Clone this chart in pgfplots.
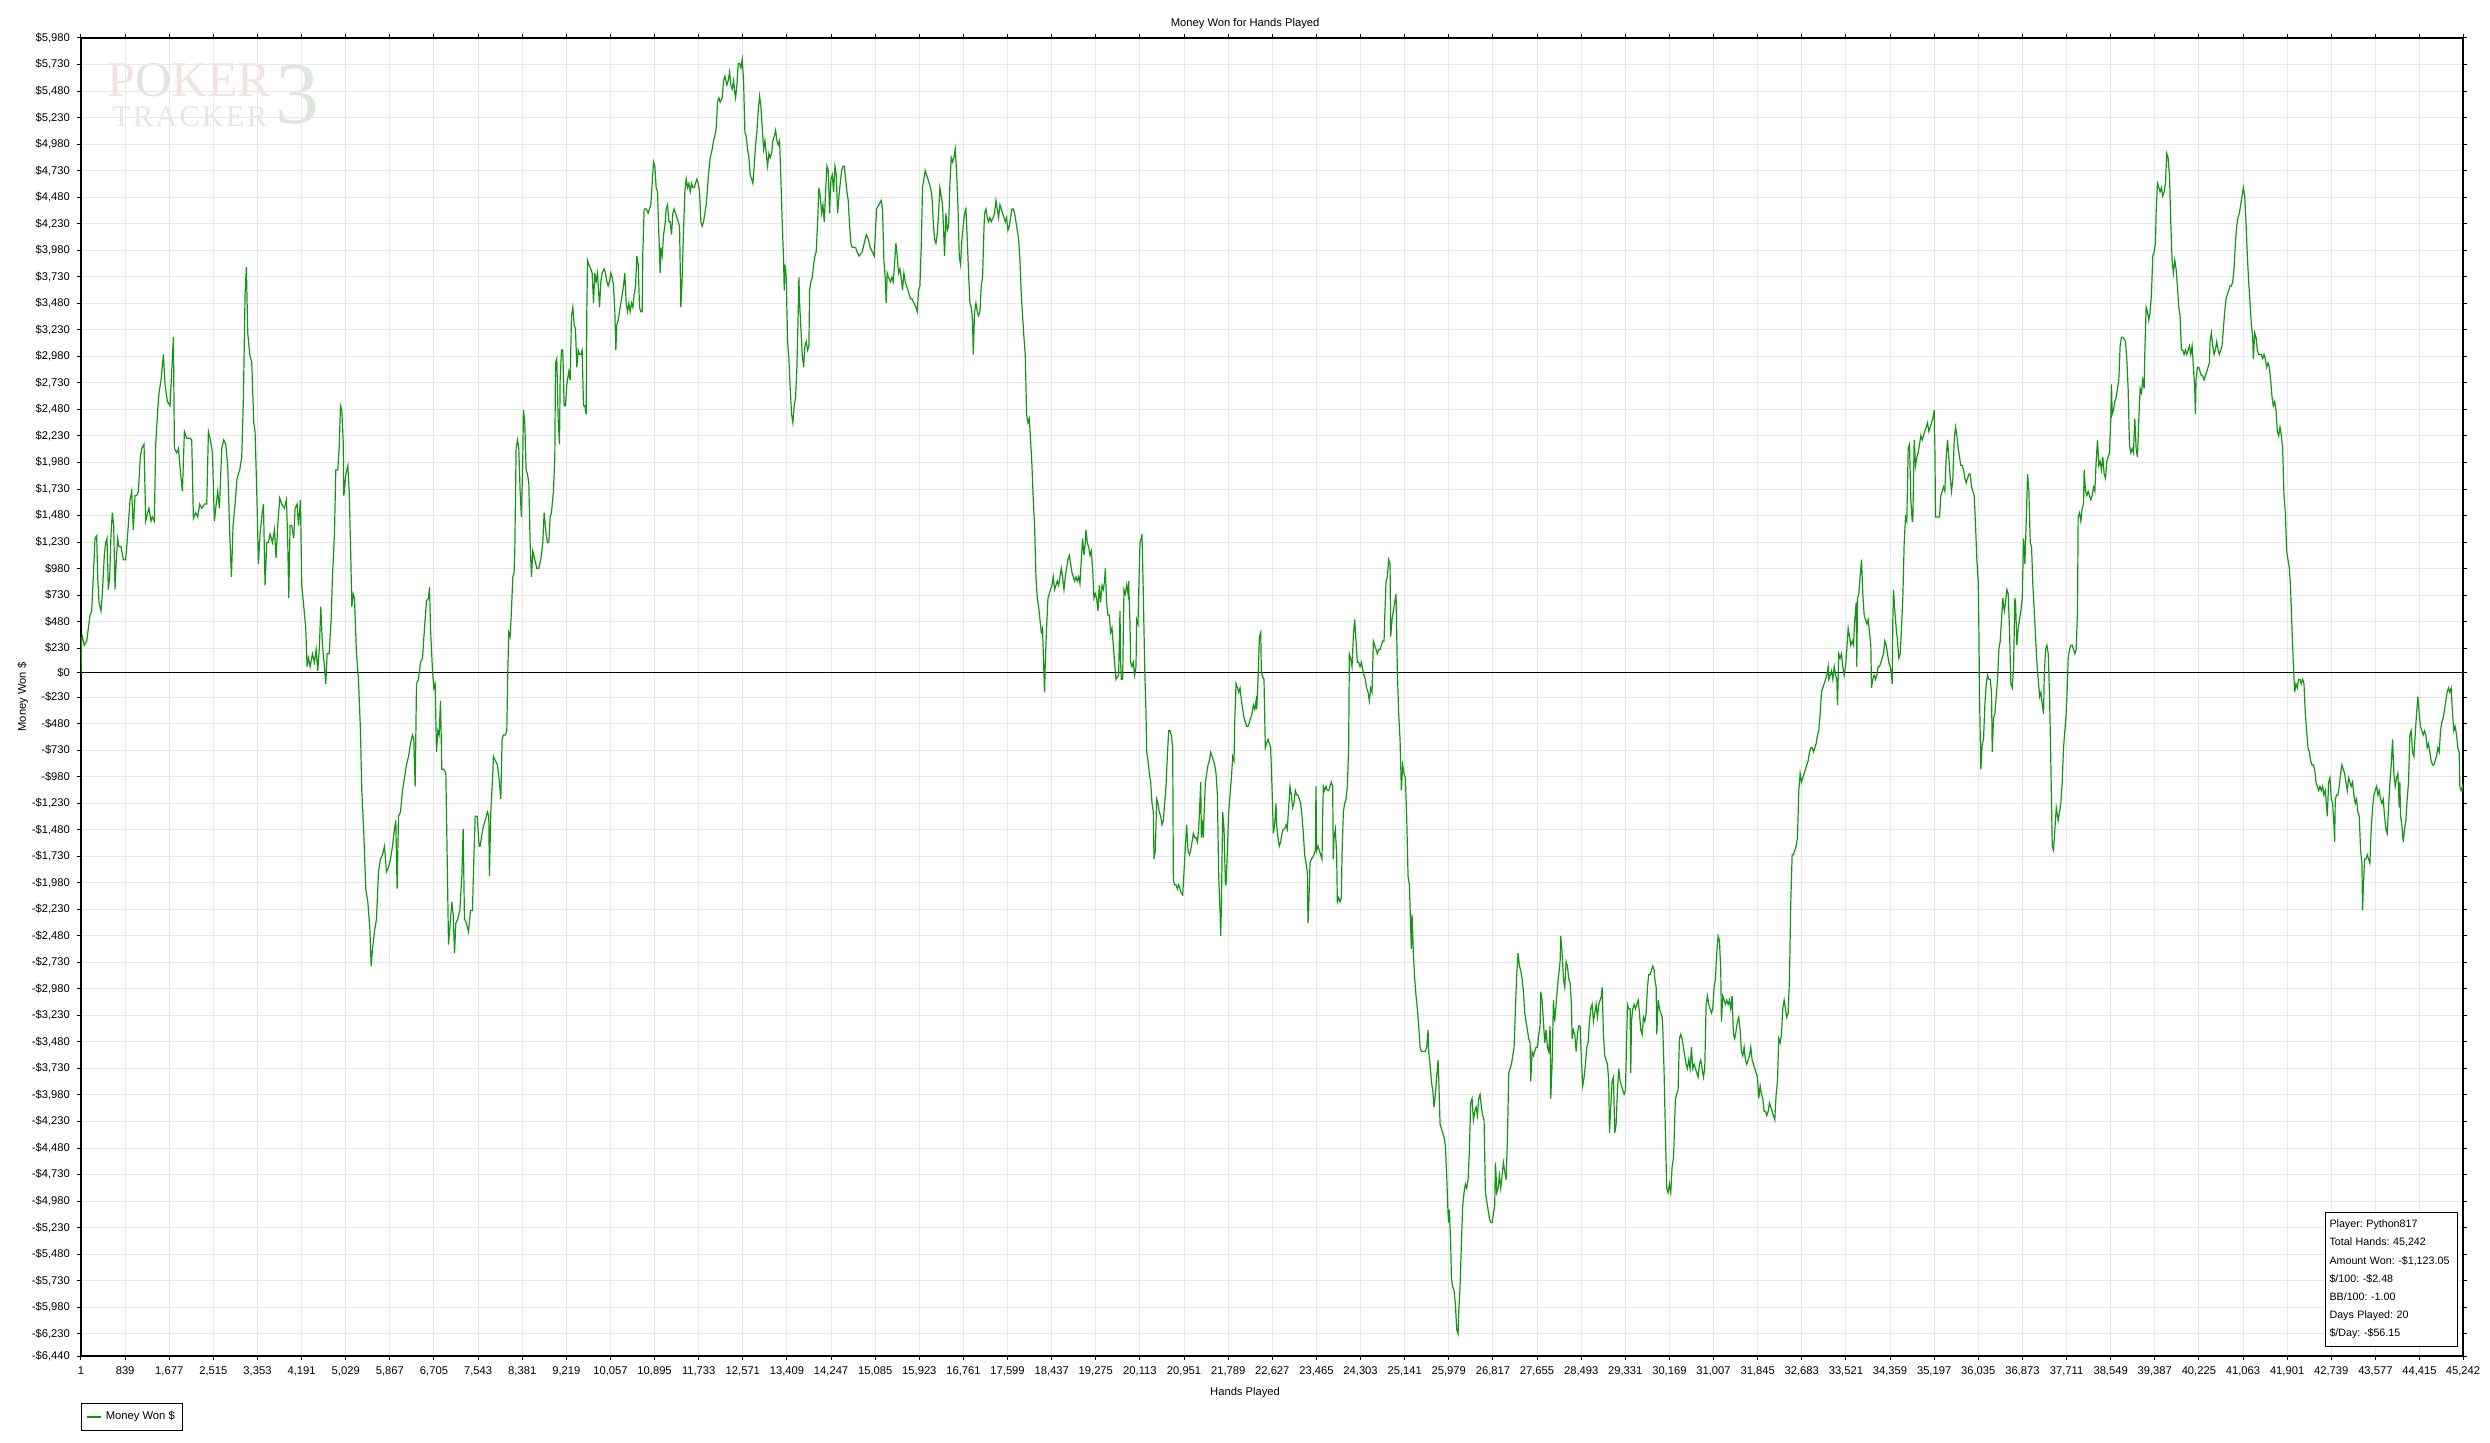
\documentclass[border=0pt]{standalone}
\usepackage{fontspec}
\setmainfont{Liberation Sans}
\newfontfamily\wmfont{Liberation Serif}
\newfontfamily\wmfontT[LetterSpace=8]{Liberation Serif}
\usepackage{pgfplots}
\pgfplotsset{compat=1.18}
\definecolor{pgreen}{RGB}{20,150,20}
\definecolor{gridc}{RGB}{232,232,232}
\definecolor{wmpink}{RGB}{243,224,224}
\definecolor{wmgray}{RGB}{230,230,230}
\definecolor{wmgreen}{RGB}{222,230,222}
\newcommand{\tfont}{\fontsize{5.6}{6.5}\selectfont}
\begin{document}
\begin{tikzpicture}
\useasboundingbox (-40.5pt,-43pt) rectangle (1204.5pt,678pt);
% watermark (behind the axis content)
\node[anchor=base west, inner sep=0pt, font=\wmfont\fontsize{25}{25}\selectfont, text=wmpink] at (13pt,629.5pt) {P\textcolor{wmgreen}{O}KER};
\node[anchor=base west, inner sep=0pt, font=\wmfontT\fontsize{15}{15}\selectfont, text=wmgray] at (15.5pt,614.5pt) {TRACKER};
\node[anchor=base west, inner sep=0pt, font=\wmfont\fontsize{44}{44}\selectfont, text=wmgreen] at (97pt,616pt) {3};
\begin{axis}[
  at={(0pt,0pt)}, anchor=south west,
  scale only axis, width=1191pt, height=659pt,
  xmin=1, xmax=45242, ymin=-6440, ymax=5980,
  axis line style={black, line width=0.8pt},
  tick align=outside, major tick length=2pt,
  tick style={black, line width=0.5pt},
  xtick={1,839,1677,2515,3353,4191,5029,5867,6705,7543,8381,9219,10057,10895,11733,12571,13409,14247,15085,15923,16761,17599,18437,19275,20113,20951,21789,22627,23465,24303,25141,25979,26817,27655,28493,29331,30169,31007,31845,32683,33521,34359,35197,36035,36873,37711,38549,39387,40225,41063,41901,42739,43577,44415,45242},
  xticklabels={1,839,1{,}677,2{,}515,3{,}353,4{,}191,5{,}029,5{,}867,6{,}705,7{,}543,8{,}381,9{,}219,10{,}057,10{,}895,11{,}733,12{,}571,13{,}409,14{,}247,15{,}085,15{,}923,16{,}761,17{,}599,18{,}437,19{,}275,20{,}113,20{,}951,21{,}789,22{,}627,23{,}465,24{,}303,25{,}141,25{,}979,26{,}817,27{,}655,28{,}493,29{,}331,30{,}169,31{,}007,31{,}845,32{,}683,33{,}521,34{,}359,35{,}197,36{,}035,36{,}873,37{,}711,38{,}549,39{,}387,40{,}225,41{,}063,41{,}901,42{,}739,43{,}577,44{,}415,45{,}242},
  scaled x ticks=false,
  xticklabel style={font=\tfont},
  ytick={-6440,-6230,-5980,-5730,-5480,-5230,-4980,-4730,-4480,-4230,-3980,-3730,-3480,-3230,-2980,-2730,-2480,-2230,-1980,-1730,-1480,-1230,-980,-730,-480,-230,0,230,480,730,980,1230,1480,1730,1980,2230,2480,2730,2980,3230,3480,3730,3980,4230,4480,4730,4980,5230,5480,5730,5980},
  yticklabels={-\$6{,}440,-\$6{,}230,-\$5{,}980,-\$5{,}730,-\$5{,}480,-\$5{,}230,-\$4{,}980,-\$4{,}730,-\$4{,}480,-\$4{,}230,-\$3{,}980,-\$3{,}730,-\$3{,}480,-\$3{,}230,-\$2{,}980,-\$2{,}730,-\$2{,}480,-\$2{,}230,-\$1{,}980,-\$1{,}730,-\$1{,}480,-\$1{,}230,-\$980,-\$730,-\$480,-\$230,\$0,\$230,\$480,\$730,\$980,\$1{,}230,\$1{,}480,\$1{,}730,\$1{,}980,\$2{,}230,\$2{,}480,\$2{,}730,\$2{,}980,\$3{,}230,\$3{,}480,\$3{,}730,\$3{,}980,\$4{,}230,\$4{,}480,\$4{,}730,\$4{,}980,\$5{,}230,\$5{,}480,\$5{,}730,\$5{,}980},
  yticklabel style={font=\tfont},
  xmajorgrids, ymajorgrids,
  grid style={gridc, line width=0.5pt},
  every axis title shift=0pt,
  title={Money Won for Hands Played},
  title style={font=\tfont, at={(axis description cs:0.4887,1.0091)}, anchor=base},
  xlabel={Hands Played},
  xlabel style={font=\tfont, at={(axis description cs:0.4887,-0.0281)}, anchor=center},
  ylabel={Money Won \$},
  ylabel style={font=\tfont, at={(axis description cs:-0.02435,0.5)}, anchor=center},
  legend style={at={(axis description cs:0,-0.0357)}, anchor=north west, draw=black, line width=0.5pt, font=\tfont, inner xsep=2pt, inner ysep=1.8pt, legend cell align=left},
  legend image code/.code={\draw[line width=1.2pt] (0pt,0pt) -- (7pt,0pt);},
]
\addplot[black, line width=0.6pt, forget plot] coordinates {(1,0) (45242,0)};
\addplot[pgreen, line width=0.6pt, mark=none] coordinates {
(1,0) (14,322) (26,339) (64,258) (109,298) (172,540) (204,580) (235,903) (267,1265) (299,1290) (318,903) (343,661) (381,580) (406,742) (444,1104) (470,1225) (495,1265) (520,782) (546,903) (571,1306) (596,1507) (622,1386) (647,782) (672,1064) (698,1265) (723,1185) (761,1185) (805,1064) (850,1064) (888,1306) (932,1628) (964,1709) (995,1346) (1027,1668) (1059,1668) (1090,1709) (1128,2031) (1154,2112) (1198,2152) (1230,1427) (1268,1507) (1293,1548) (1331,1427) (1356,1467) (1394,1427) (1420,2152) (1458,2474) (1483,2636) (1521,2757) (1566,2998) (1597,2716) (1642,2555) (1692,2515) (1724,2837) (1756,3160) (1775,2112) (1819,2071) (1851,2112) (1901,1830) (1927,1709) (1965,2273) (2009,2208) (2072,2208) (2104,2192) (2136,1451) (2180,1507) (2218,1467) (2256,1588) (2294,1548) (2345,1588) (2389,1588) (2421,2273) (2459,2192) (2497,2071) (2535,1427) (2560,1548) (2598,1709) (2630,1548) (2674,2112) (2712,2192) (2750,2152) (2788,1951) (2826,1306) (2858,903) (2889,1386) (2927,1588) (2965,1830) (3016,1910) (3054,2031) (3086,2595) (3117,3563) (3142,3820) (3168,3200) (3206,2998) (3244,2918) (3282,2354) (3307,2273) (3339,1709) (3371,1024) (3402,1306) (3434,1467) (3466,1588) (3497,822) (3529,1225) (3561,1225) (3592,1306) (3637,1225) (3675,1346) (3706,1080) (3738,1386) (3776,1644) (3814,1588) (3865,1548) (3903,1628) (3928,1225) (3947,701) (3972,1386) (4004,1386) (4042,1265) (4067,1548) (4105,1588) (4131,1386) (4169,1628) (4194,822) (4232,621) (4270,419) (4295,56) (4321,137) (4353,56) (4397,177) (4435,97) (4467,218) (4498,16) (4530,258) (4555,621) (4587,258) (4625,56) (4650,-105) (4676,177) (4714,177) (4752,500) (4777,903) (4815,1306) (4840,1910) (4878,1910) (4904,2112) (4929,2515) (4954,2474) (4980,2192) (4993,1668) (5031,1870) (5069,1951) (5094,1709) (5119,1225) (5145,621) (5170,742) (5195,701) (5233,177) (5271,-64) (5309,-548) (5334,-1112) (5372,-1515) (5410,-2039) (5448,-2160) (5486,-2402) (5512,-2765) (5537,-2603) (5575,-2442) (5613,-2321) (5651,-1878) (5689,-1757) (5727,-1717) (5765,-1636) (5803,-1878) (5841,-1838) (5879,-1757) (5917,-1636) (5955,-1475) (5980,-1394) (6005,-2039) (6031,-1354) (6069,-1314) (6107,-1112) (6145,-991) (6183,-870) (6221,-790) (6259,-669) (6297,-588) (6322,-629) (6348,-1072) (6373,-105) (6411,-64) (6449,97) (6487,137) (6525,419) (6563,677) (6601,701) (6620,806) (6639,419) (6677,16) (6702,-145) (6727,-105) (6753,-750) (6778,-548) (6803,-588) (6829,-266) (6854,-911) (6892,-911) (6930,-951) (6955,-1717) (6981,-2563) (7019,-2321) (7044,-2160) (7069,-2281) (7095,-2644) (7120,-2362) (7158,-2321) (7196,-2241) (7234,-1918) (7259,-1475) (7284,-2321) (7322,-2362) (7360,-2442) (7398,-2241) (7436,-2241) (7462,-1757) (7487,-1354) (7525,-1354) (7563,-1636)
(7581,-1636) (7632,-1475) (7676,-1394) (7720,-1314) (7746,-1354) (7758,-1918) (7784,-1314) (7822,-951) (7834,-790) (7872,-830) (7910,-870) (7948,-1032) (7974,-1193) (7999,-629) (8024,-588) (8062,-588) (8088,-548) (8107,16) (8126,379) (8151,339) (8176,580) (8202,903) (8227,943) (8240,1145) (8265,2112) (8290,2192) (8316,2112) (8341,1709) (8366,1467) (8392,2031) (8404,2474) (8430,2354) (8455,1910) (8480,1870) (8506,1789) (8531,1225) (8556,903) (8582,1145) (8620,1064) (8658,983) (8696,983) (8734,1064) (8772,1225) (8797,1507) (8835,1306) (8860,1225) (8886,1225) (8911,1467) (8936,1507) (8974,1709) (9000,2031) (9013,2918) (9038,2958) (9063,2394) (9089,2152) (9101,2757) (9127,3039) (9152,3039) (9177,2515) (9202,2515) (9228,2716) (9266,2837) (9291,2757) (9317,3361) (9342,3442) (9367,3280) (9392,3240) (9418,2877) (9443,3039) (9469,2998) (9494,2998) (9519,3039) (9545,2515) (9570,2515) (9595,2434) (9608,3401) (9621,3885) (9646,3845) (9684,3804) (9709,3764) (9735,3482) (9760,3764) (9785,3683) (9811,3764) (9849,3442) (9874,3683) (9899,3764) (9937,3804) (9963,3764) (9988,3683) (10013,3643) (10039,3683) (10064,3764) (10089,3724) (10115,3643) (10140,3401) (10159,3039) (10178,3280) (10203,3321) (10229,3401) (10254,3482) (10279,3563) (10305,3643) (10330,3764) (10355,3482) (10381,3401) (10406,3482) (10431,3401) (10457,3482) (10482,3442) (10507,3563) (10533,3643) (10558,3925) (10583,3845) (10609,3442) (10634,3401) (10659,3401) (10672,3966) (10697,4369) (10735,4369) (10773,4328) (10799,4369) (10824,4409) (10849,4610) (10875,4812) (10900,4772) (10925,4570) (10951,4530) (10976,4127) (11001,3764) (11014,4006) (11039,3925) (11065,4127) (11090,4207) (11115,4369) (11141,4409) (11166,4248) (11191,4248) (11217,4127) (11242,4328) (11267,4369) (11293,4328) (11318,4288) (11343,4248) (11369,4207) (11394,3442) (11419,3724) (11445,4167) (11470,4530) (11495,4651) (11521,4570) (11546,4610) (11571,4530) (11597,4610) (11622,4570) (11647,4570) (11673,4610) (11698,4651) (11723,4610) (11749,4530) (11774,4248) (11799,4207) (11825,4248) (11850,4328) (11875,4409) (11901,4570) (11926,4731) (11951,4852) (11989,4933) (12015,5013) (12040,5054) (12065,5134) (12091,5376) (12116,5416) (12141,5376) (12179,5416) (12205,5578) (12230,5618) (12268,5537) (12293,5578) (12319,5658) (12344,5537) (12369,5497) (12395,5578) (12420,5457) (12433,5416) (12458,5537) (12483,5739) (12509,5739) (12534,5698) (12559,5779) (12585,5578) (12610,5094) (12635,5054) (12661,4933) (12686,4852) (12711,4691) (12737,4651) (12762,4610) (12787,4772) (12813,4973) (12838,5094) (12863,5295) (12889,5432) (12914,5336) (12939,5134) (12965,4933) (12990,5013) (13015,4892) (13041,4772) (13066,4892) (13091,4852) (13117,4892) (13142,5013) (13167,5054) (13193,5110) (13218,5013) (13243,4973) (13269,5013) (13294,4651) (13319,4248) (13345,3885) (13357,3603) (13370,3845) (13395,3724) (13421,3119) (13446,2958) (13471,2676) (13497,2434) (13522,2354) (13547,2515) (13573,2595) (13598,2877) (13623,3401) (13636,3724) (13649,3482) (13674,3240) (13699,2998) (13725,2877) (13750,3079) (13775,3119) (13801,3039) (13826,3079) (13839,3603) (13864,3683) (13889,3724) (13915,3845) (13940,3925) (13965,3966) (13991,4248) (14016,4570) (14041,4489) (14067,4328) (14092,4409) (14117,4248) (14143,4530) (14168,4772) (14193,4731) (14219,4328) (14244,4651) (14269,4691) (14295,4530) (14320,4772) (14345,4691) (14371,4328) (14396,4489) (14421,4610) (14447,4731) (14472,4772) (14497,4772) (14523,4651) (14548,4530) (14573,4449) (14599,4207) (14624,4046) (14649,4006) (14712,4006) (14738,3966) (14776,3925) (14839,3966) (14877,4046) (14915,4127) (14953,4087) (14991,4006) (15029,3966) (15067,3925)
(15110,4369) (15155,4409) (15199,4449) (15224,4369) (15250,3885) (15275,3724) (15294,3482) (15313,3764) (15338,3724) (15376,3683) (15402,3724) (15427,3683) (15452,3845) (15478,4046) (15503,3925) (15528,3764) (15554,3804) (15579,3724) (15604,3603) (15630,3764) (15655,3683) (15680,3643) (15706,3603) (15731,3563) (15756,3522) (15782,3522) (15820,3482) (15858,3442) (15883,3401) (15908,3603) (15934,3643) (15959,4006) (15984,4570) (16010,4651) (16035,4731) (16060,4691) (16086,4651) (16111,4610) (16136,4570) (16162,4489) (16187,4248) (16212,4086) (16238,4046) (16263,4127) (16288,4328) (16314,4570) (16339,4489) (16364,4409) (16390,4086) (16402,3925) (16428,4328) (16453,4167) (16478,4207) (16504,4610) (16529,4852) (16554,4812) (16580,4852) (16605,4933) (16630,4731) (16656,4409) (16681,3925) (16706,3845) (16732,4086) (16757,4207) (16782,4328) (16808,4369) (16833,4086) (16858,3764) (16884,3482) (16909,3442) (16934,3321) (16947,2998) (16972,3401) (16998,3482) (17023,3401) (17048,3361) (17074,3401) (17099,3643) (17124,3724) (17150,4167) (17162,4328) (17188,4369) (17213,4288) (17238,4248) (17264,4288) (17289,4248) (17327,4288) (17352,4328) (17378,4449) (17403,4369) (17428,4288) (17454,4409) (17479,4369) (17504,4328) (17530,4288) (17555,4248) (17580,4288) (17606,4167) (17631,4207) (17656,4288) (17682,4369) (17707,4369) (17732,4328) (17758,4248) (17783,4167) (17808,4086) (17834,3885) (17859,3563) (17884,3361) (17910,3160) (17935,2998) (17960,2434) (17986,2354) (18011,2394) (18036,2192) (18062,1951) (18087,1628) (18112,1386) (18138,903) (18163,701) (18188,621) (18214,500) (18239,379) (18264,419) (18277,177) (18302,-185) (18315,97) (18340,419) (18366,701) (18391,742) (18416,782) (18442,822) (18467,903) (18492,782) (18518,822) (18543,862) (18568,822) (18594,903) (18619,983) (18644,903) (18670,782) (18695,903) (18720,983) (18746,1064) (18771,1104) (18796,1024) (18822,943) (18847,903) (18872,862) (18898,903) (18923,862) (18948,903) (18974,838) (18999,1064) (19024,1265) (19050,1104) (19075,1225) (19088,1346) (19113,1225) (19138,1185) (19164,1104) (19189,1145) (19214,983) (19240,701) (19265,742) (19290,701) (19316,580) (19341,822) (19366,661) (19392,822) (19417,782) (19442,862) (19455,983) (19480,661) (19506,540) (19531,540) (19556,379) (19582,419) (19607,258) (19632,97) (19658,-64) (19683,-40) (19708,-24) (19734,580) (19746,97) (19759,-64) (19784,-64) (19810,782) (19835,742) (19860,822) (19886,742) (19898,862) (19924,459) (19937,97) (19962,56) (19987,97) (20013,-24) (20038,56) (20051,500) (20076,459) (20089,742) (20114,1225) (20139,1265) (20152,1306) (20177,742) (20203,56) (20228,-387) (20241,-750) (20266,-830) (20291,-951) (20317,-1032) (20342,-1233) (20367,-1314) (20380,-1757) (20405,-1676) (20431,-1193) (20456,-1233) (20481,-1314) (20507,-1354) (20532,-1435) (20557,-1394) (20583,-1233) (20608,-1072) (20633,-790) (20659,-548) (20684,-548) (20709,-588) (20735,-709) (20748,-1959) (20773,-1999) (20798,-1999) (20824,-2039) (20849,-1999) (20874,-2039) (20900,-2079) (20925,-2096) (20950,-1878) (20976,-1636) (21001,-1435) (21026,-1676) (21052,-1717) (21077,-1676) (21102,-1596) (21128,-1515) (21153,-1556) (21178,-1556) (21204,-1596) (21229,-1475) (21254,-1193) (21267,-1032) (21280,-1556) (21305,-1394) (21318,-1556) (21330,-1354) (21356,-1032) (21381,-951) (21406,-870) (21432,-830) (21457,-750) (21482,-790) (21508,-830) (21533,-870) (21558,-951) (21584,-1153) (21609,-1918) (21634,-2241) (21647,-2482) (21660,-2200) (21685,-1314) (21710,-1475) (21736,-1999) (21748,-1999) (21774,-1676) (21799,-1314) (21824,-1153) (21850,-991) (21875,-790) (21900,-830) (21913,-467) (21938,-105) (21964,-145) (21989,-185) (22014,-145) (22040,-266) (22065,-347) (22090,-427) (22116,-467) (22141,-508) (22166,-508) (22192,-467) (22217,-427) (22242,-387) (22268,-306) (22293,-347) (22318,-266) (22331,-347) (22356,-64) (22382,339) (22407,379)
(22418,16) (22443,-40) (22469,-64) (22494,-709) (22519,-669) (22545,-629) (22570,-669) (22595,-709) (22621,-1072) (22646,-1515) (22671,-1435) (22697,-1233) (22709,-1435) (22735,-1556) (22760,-1636) (22785,-1596) (22811,-1515) (22836,-1475) (22861,-1475) (22887,-1435) (22912,-1475) (22937,-1273) (22963,-1072) (22988,-1153) (23013,-1273) (23039,-1233) (23064,-1112) (23089,-1153) (23115,-1153) (23140,-1193) (23165,-1233) (23191,-1354) (23216,-1515) (23241,-1717) (23267,-1797) (23292,-1878) (23305,-2362) (23317,-2241) (23343,-1797) (23368,-1757) (23393,-1741) (23419,-1717) (23444,-1676) (23457,-1072) (23469,-1676) (23495,-1636) (23520,-1676) (23545,-1717) (23571,-1757) (23583,-1354) (23596,-1072) (23621,-1112) (23647,-1072) (23672,-1112) (23697,-1112) (23723,-1072) (23748,-1032) (23773,-1072) (23786,-1757) (23799,-1556) (23824,-1475) (23849,-1717) (23862,-2160) (23887,-2120) (23913,-2160) (23938,-2120) (23951,-1717) (23976,-1314) (24001,-1233) (24027,-1193) (24052,-1072) (24077,-709) (24090,177) (24115,137) (24141,56) (24166,339) (24191,500) (24217,298) (24242,97) (24267,97) (24293,56) (24318,97) (24343,32) (24369,-24) (24394,-64) (24419,-145) (24445,-185) (24470,-266) (24495,-145) (24521,-185) (24546,298) (24571,258) (24597,218) (24622,177) (24647,218) (24673,218) (24698,258) (24723,298) (24749,298) (24761,500) (24787,862) (24812,903) (24837,1064) (24863,1024) (24875,339) (24901,500) (24926,580) (24951,661) (24977,742) (25002,16) (25027,-387) (25053,-629) (25078,-1112) (25103,-870) (25129,-951) (25154,-991) (25179,-1354) (25205,-1918) (25230,-1999) (25255,-2402) (25268,-2603) (25281,-2281) (25306,-2644) (25331,-2885) (25357,-3047) (25382,-3168) (25407,-3329) (25433,-3530) (25458,-3571) (25483,-3571) (25509,-3571) (25534,-3571) (25559,-3530) (25585,-3369) (25597,-3571) (25623,-3691) (25648,-3853) (25673,-3933) (25699,-4094) (25724,-3974) (25749,-3812) (25775,-3651) (25787,-3812) (25813,-4256) (25838,-4296) (25863,-4336) (25889,-4377) (25914,-4457) (25939,-4739) (25965,-5102) (25977,-5183) (25990,-5062) (26015,-5384) (26028,-5706) (26053,-5787) (26079,-5827) (26104,-5948) (26129,-6190) (26155,-6230) (26167,-6029) (26193,-5787) (26218,-5384) (26243,-5021) (26269,-4900) (26294,-4820) (26319,-4860) (26345,-4780) (26370,-4497) (26395,-4054) (26421,-4014) (26446,-4215) (26471,-4135) (26497,-4094) (26522,-4175) (26547,-4014) (26573,-3974) (26598,-4094) (26623,-4175) (26649,-4215) (26674,-4900) (26699,-4981) (26725,-5062) (26750,-5142) (26775,-5183) (26801,-5183) (26826,-5102) (26851,-5021) (26864,-4618) (26877,-4739) (26889,-4900) (26915,-4860) (26940,-4739) (26965,-4860) (26991,-4739) (27016,-4618) (27041,-4699) (27067,-4780) (27092,-4417) (27117,-3772) (27143,-3732) (27168,-3691) (27193,-3611) (27219,-3530) (27244,-3168) (27269,-2845) (27295,-2644) (27320,-2765) (27345,-2805) (27371,-2885) (27396,-3006) (27421,-3208) (27447,-3288) (27472,-3369) (27497,-3450) (27523,-3490) (27535,-3853) (27561,-3571) (27586,-3611) (27611,-3571) (27637,-3530) (27662,-3530) (27687,-3409) (27713,-3329) (27725,-3006) (27751,-3087) (27776,-3288) (27801,-3490) (27827,-3369) (27852,-3530) (27877,-3571) (27903,-3329) (27915,-4014) (27941,-3691) (27966,-3087) (27991,-3288) (28017,-3127) (28042,-2966) (28067,-2845) (28093,-2724) (28105,-2482) (28131,-2644) (28156,-2885) (28181,-2966) (28207,-2724) (28232,-2765) (28257,-2885) (28283,-2926) (28308,-3127) (28321,-3450) (28346,-3369) (28371,-3409) (28397,-3571) (28422,-3409) (28447,-3329) (28473,-3329) (28498,-3651) (28523,-3893) (28549,-3812) (28574,-3691) (28599,-3530) (28625,-3490) (28650,-3288) (28675,-3168) (28701,-3127) (28726,-3288) (28751,-3208) (28777,-3127) (28802,-3248) (28827,-3127) (28853,-3087) (28878,-3047) (28891,-2966) (28916,-3409) (28941,-3611) (28967,-3651) (28992,-3691) (29017,-3853) (29030,-4336) (29055,-4094) (29081,-3853) (29106,-3812) (29131,-4336) (29157,-4256) (29182,-3933) (29207,-3732) (29233,-3853) (29258,-3893) (29283,-3933) (29309,-3974) (29334,-3933) (29359,-3409) (29372,-3127) (29397,-3168) (29423,-3168) (29435,-3772) (29448,-3288) (29473,-3168) (29499,-3127) (29524,-3168) (29549,-3127) (29575,-3087) (29600,-3208) (29625,-3369) (29651,-3409) (29676,-3248) (29701,-3288) (29727,-3208) (29752,-2966) (29777,-2845) (29803,-2845) (29828,-2805) (29853,-2765) (29879,-2805) (29891,-2885) (29917,-2966) (29929,-3409) (29955,-3087) (29980,-3168) (30005,-3208) (30031,-3248)
(30042,-3329) (30068,-3772) (30093,-4336) (30118,-4860) (30144,-4900) (30169,-4820) (30194,-4900) (30220,-4659) (30245,-4578) (30258,-4417) (30283,-4014) (30308,-3974) (30334,-3933) (30359,-3450) (30384,-3409) (30410,-3450) (30435,-3530) (30460,-3611) (30486,-3691) (30511,-3732) (30536,-3651) (30562,-3732) (30587,-3530) (30612,-3732) (30638,-3691) (30663,-3732) (30688,-3772) (30714,-3812) (30739,-3691) (30764,-3651) (30790,-3732) (30815,-3812) (30840,-3732) (30866,-3127) (30891,-3047) (30916,-3127) (30942,-3168) (30967,-3208) (30992,-3168) (31018,-2966) (31043,-2885) (31068,-2644) (31094,-2482) (31119,-2523) (31144,-2805) (31157,-3288) (31182,-3047) (31208,-3087) (31233,-3127) (31258,-3087) (31284,-3127) (31309,-3087) (31334,-3168) (31360,-3047) (31385,-3409) (31410,-3450) (31436,-3369) (31461,-3288) (31486,-3248) (31512,-3369) (31537,-3571) (31562,-3611) (31588,-3530) (31613,-3651) (31638,-3691) (31664,-3651) (31689,-3611) (31714,-3530) (31740,-3651) (31765,-3691) (31790,-3732) (31816,-3772) (31841,-3812) (31866,-4014) (31892,-3893) (31917,-3974) (31942,-4014) (31968,-4135) (31993,-4135) (32018,-4175) (32044,-4135) (32069,-4054) (32094,-4094) (32120,-4135) (32145,-4175) (32170,-4215) (32196,-3974) (32221,-3853) (32246,-3450) (32272,-3490) (32297,-3409) (32322,-3168) (32348,-3087) (32373,-3168) (32398,-3248) (32424,-3208) (32449,-2885) (32474,-2160) (32500,-1717) (32525,-1717) (32550,-1676) (32576,-1636) (32601,-1556) (32626,-1112) (32652,-951) (32677,-1032) (32702,-991) (32728,-951) (32753,-911) (32778,-870) (32804,-830) (32829,-750) (32854,-709) (32880,-709) (32905,-750) (32930,-709) (32956,-669) (32981,-588) (33006,-548) (33032,-387) (33057,-185) (33082,-145) (33108,-105) (33133,-64) (33158,-24) (33184,56) (33196,-64) (33222,-24) (33247,16) (33272,-64) (33298,56) (33323,-24) (33348,-64) (33361,-306) (33386,177) (33412,137) (33437,177) (33462,56) (33488,-24) (33513,56) (33538,218) (33564,419) (33589,339) (33614,258) (33640,298) (33665,258) (33690,500) (33716,661) (33728,56) (33741,701) (33766,742) (33792,903) (33817,1064) (33842,742) (33868,540) (33893,500) (33918,459) (33944,500) (33969,379) (33994,258) (34007,-145) (34032,-64) (34058,-24) (34083,-64) (34108,-24) (34134,56) (34159,56) (34184,97) (34210,137) (34235,177) (34260,298) (34286,258) (34311,177) (34336,97) (34362,56) (34387,-24) (34400,-105) (34412,500) (34425,782) (34450,580) (34476,419) (34501,298) (34526,137) (34552,177) (34577,419) (34602,701) (34628,1225) (34653,1467) (34678,1427) (34704,2112) (34729,2152) (34754,1628) (34780,1427) (34792,1427) (34818,2192) (34843,1951) (34868,2031) (34894,2071) (34919,2152) (34944,2233) (34970,2192) (34995,2233) (35020,2273) (35046,2313) (35071,2354) (35096,2273) (35122,2313) (35147,2354) (35172,2394) (35198,2474) (35210,2152) (35223,1467) (35248,1467) (35274,1467) (35299,1467) (35324,1668) (35350,1709) (35375,1749) (35400,1709) (35426,2031) (35451,2192) (35476,2031) (35502,1830) (35527,1709) (35552,1830) (35578,2192) (35603,2313) (35628,2233) (35654,2112) (35679,2031) (35704,1951) (35730,1951) (35755,1910) (35780,1830) (35806,1789) (35831,1830) (35856,1870) (35882,1870) (35907,1749) (35932,1709) (35958,1668) (35983,1386) (36008,1064) (36034,862) (36046,419) (36059,-226) (36072,-588) (36084,-911) (36110,-669) (36135,-629) (36160,-306) (36186,-105) (36211,-24) (36236,-64) (36262,-64) (36287,-185) (36300,-750) (36325,-427) (36350,-387) (36376,-226) (36401,-64) (36426,218) (36452,298) (36477,500) (36502,701) (36528,580) (36553,661) (36578,782) (36604,742) (36629,379) (36654,-105) (36680,-145) (36705,56) (36730,701) (36743,661) (36768,258) (36794,419) (36819,500) (36844,580) (36870,701) (36895,1265) (36920,1024) (36946,1427) (36971,1870) (36996,1709) (37022,1225) (37047,1185) (37072,822) (37098,580) (37123,339) (37148,97) (37174,-64) (37199,-226) (37224,-185) (37250,-306) (37275,-387) (37288,-24) (37313,218) (37338,258) (37364,177) (37389,-226) (37414,-870) (37440,-1636) (37465,-1676) (37490,-1475) (37516,-1273)
(37553,-1394) (37578,-1314) (37603,-1233) (37629,-1032) (37654,-709) (37679,-548) (37705,-387) (37730,-64) (37743,137) (37768,218) (37793,258) (37819,258) (37844,218) (37869,177) (37894,218) (37920,580) (37932,1467) (37958,1507) (37983,1427) (38008,1548) (38034,1588) (38046,1910) (38072,1709) (38097,1668) (38122,1709) (38147,1668) (38173,1628) (38198,1668) (38223,1749) (38249,1709) (38274,1991) (38299,2192) (38325,1951) (38350,1991) (38375,1910) (38400,2031) (38426,1870) (38451,1830) (38476,1991) (38502,2031) (38527,2071) (38552,2394) (38565,2716) (38578,2434) (38603,2474) (38628,2555) (38653,2595) (38679,2676) (38704,2757) (38729,3079) (38755,3160) (38780,3160) (38805,3143) (38831,3119) (38856,2958) (38881,2676) (38906,2152) (38932,2071) (38957,2112) (38982,2071) (39008,2394) (39033,2112) (39058,2031) (39084,2394) (39109,2676) (39134,2636) (39159,2757) (39185,2676) (39197,2998) (39223,3442) (39248,3401) (39273,3321) (39299,3401) (39324,3563) (39349,3925) (39375,3966) (39400,4046) (39413,4328) (39438,4610) (39463,4570) (39488,4530) (39514,4570) (39539,4489) (39564,4530) (39590,4610) (39615,4892) (39640,4852) (39666,4691) (39691,4248) (39716,3885) (39741,3764) (39767,3885) (39792,3804) (39817,3643) (39843,3442) (39868,3361) (39893,3039) (39919,3039) (39944,2998) (39969,3039) (39994,2998) (40020,3039) (40045,3079) (40070,2998) (40096,3079) (40121,2877) (40146,2676) (40159,2434) (40171,2757) (40197,2877) (40222,2877) (40247,2837) (40273,2797) (40298,2797) (40323,2757) (40349,2797) (40374,2837) (40399,2877) (40424,2918) (40437,3119) (40462,3200) (40488,3079) (40513,2998) (40538,3039) (40564,3119) (40589,3039) (40614,2998) (40639,3039) (40665,3079) (40690,3240) (40715,3401) (40741,3522) (40766,3563) (40791,3603) (40817,3643) (40842,3643) (40867,3683) (40892,3804) (40918,4046) (40943,4207) (40968,4288) (40994,4328) (41019,4409) (41044,4489) (41070,4570) (41095,4489) (41120,4248) (41145,3925) (41171,3683) (41196,3482) (41221,3280) (41247,3160) (41259,2958) (41285,3200) (41310,3160) (41335,3039) (41361,2998) (41386,2998) (41411,2998) (41437,2958) (41462,2998) (41487,2958) (41512,2877) (41538,2918) (41563,2877) (41588,2757) (41614,2595) (41639,2515) (41664,2555) (41690,2474) (41715,2273) (41740,2233) (41765,2313) (41791,2233) (41816,2112) (41841,1668) (41867,1507) (41892,1145) (41917,1064) (41943,983) (41968,782) (41993,419) (42018,97) (42044,-185) (42069,-105) (42094,-145) (42120,-64) (42145,-64) (42170,-105) (42196,-64) (42221,-105) (42246,-387) (42271,-548) (42297,-709) (42322,-750) (42347,-830) (42373,-870) (42398,-870) (42423,-911) (42449,-1032) (42474,-1072) (42499,-1112) (42524,-1072) (42550,-1112) (42575,-1072) (42600,-1153) (42626,-1112) (42651,-1273) (42664,-1354) (42689,-1032) (42714,-991) (42740,-1193) (42765,-1233) (42790,-1435) (42803,-1596) (42815,-1193) (42841,-1153) (42866,-1153) (42891,-1072) (42916,-951) (42942,-870) (42967,-911) (42992,-951) (43018,-1032) (43043,-1112) (43068,-991) (43094,-1032) (43119,-1072) (43144,-1032) (43169,-1153) (43195,-1233) (43220,-1193) (43245,-1314) (43271,-1354) (43296,-1676) (43321,-1797) (43334,-2241) (43347,-2039) (43372,-1757) (43397,-1757) (43422,-1717) (43448,-1757) (43473,-1797) (43498,-1475) (43524,-1273) (43549,-1153) (43574,-1112) (43600,-1072) (43625,-1153) (43650,-1112) (43675,-1193) (43701,-1233) (43726,-1193) (43751,-1354) (43777,-1475) (43802,-1515) (43827,-1273) (43853,-1032) (43878,-870) (43903,-629) (43928,-951) (43954,-1072) (43979,-991) (44004,-951) (44030,-1273) (44042,-1032) (44055,-1354) (44080,-1435) (44106,-1596) (44131,-1475) (44156,-1394) (44181,-1193) (44207,-1032) (44232,-588) (44257,-548) (44283,-750) (44308,-790) (44333,-588) (44359,-387) (44384,-226) (44409,-387) (44434,-508) (44460,-548) (44485,-588) (44510,-548) (44536,-588) (44561,-709) (44586,-669) (44612,-750) (44637,-830) (44662,-870) (44687,-870) (44713,-830) (44738,-790) (44763,-709) (44789,-750) (44814,-548) (44839,-467) (44865,-427) (44890,-347) (44915,-266) (44940,-185) (44966,-145) (44991,-185) (45016,-145) (45042,-387) (45067,-548) (45092,-508) (45118,-588) (45143,-709) (45168,-750) (45181,-1072) (45206,-1112) (45232,-1072) (45242,-1123)
};
\addlegendentry{Money Won \$}
\end{axis}
% stats box
\node[draw=black, line width=0.5pt, fill=white, anchor=north west, inner xsep=2pt, inner ysep=0pt, minimum width=66pt, minimum height=67pt, text width=62pt, align=left, font=\fontsize{5.35}{9.1}\selectfont\frenchspacing] at (1122pt,72pt) {\mbox{Player: Python817}\\\mbox{Total Hands: 45,242}\\\mbox{Amount Won: -\$1,123.05}\\\mbox{\$/100: -\$2.48}\\\mbox{BB/100: -1.00}\\\mbox{Days Played: 20}\\\mbox{\$/Day: -\$56.15}};
\end{tikzpicture}
\end{document}
